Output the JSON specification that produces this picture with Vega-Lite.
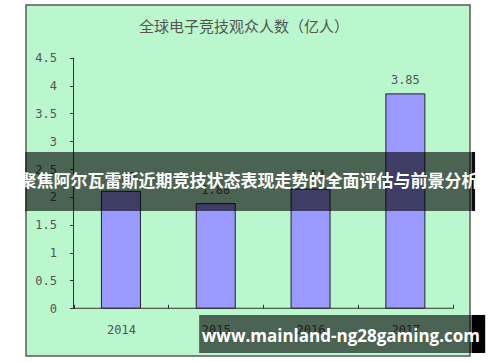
{
  "$schema": "https://vega.github.io/schema/vega-lite/v6.json",
  "width": 444,
  "height": 351,
  "autosize": {"type": "none"},
  "padding": {"left": 26, "top": 5, "right": 30, "bottom": 6},
  "background": "white",
  "view": {"fill": "#bbf7cc", "stroke": "#5a5a5a", "strokeWidth": 1.5},
  "title": {
    "text": "全球电子竞技观众人数（亿人）",
    "font": "Noto Sans CJK SC",
    "fontSize": 15,
    "fontWeight": "normal",
    "color": "#555555",
    "anchor": "middle",
    "frame": "group",
    "offset": -30,
    "dx": -4
  },
  "data": {
    "values": [
      {"year": 2014, "viewers": 2.10},
      {"year": 2015, "viewers": 1.88},
      {"year": 2016, "viewers": 2.14},
      {"year": 2017, "viewers": 3.85}
    ]
  },
  "resolve": {"axis": {"x": "independent", "y": "independent"}},
  "layer": [
    {
      "mark": {"type": "bar", "size": 39, "fill": "#9999ff", "stroke": "#222222", "strokeWidth": 1},
      "encoding": {
        "x": {
          "field": "year",
          "type": "quantitative",
          "scale": {"domain": [2013.0515, 2017.629], "nice": false, "zero": false},
          "axis": {
            "values": [2013.5, 2014, 2014.5, 2015, 2015.5, 2016, 2016.5, 2017, 2017.5],
            "offset": -47.7,
            "domain": false,
            "grid": false,
            "title": null,
            "tickSize": -4,
            "tickColor": "#333333",
            "tickOpacity": {"condition": {"test": "datum.value % 1 === 0", "value": 0}, "value": 1},
            "labelExpr": "datum.value % 1 === 0 ? '' + datum.value : ''",
            "labelFont": "DejaVu Sans Mono",
            "labelFontSize": 12,
            "labelColor": "#555555",
            "labelPadding": 20,
            "labelFlush": false,
            "labelOverlap": false
          }
        },
        "y": {
          "field": "viewers",
          "type": "quantitative",
          "scale": {"domain": [-0.857, 5.446], "nice": false, "zero": false},
          "axis": {
            "values": [0, 0.5, 1, 1.5, 2, 2.5, 3, 3.5, 4, 4.5],
            "offset": -43.5,
            "domain": false,
            "grid": false,
            "title": null,
            "tickSize": -4,
            "tickColor": "#333333",
            "labelExpr": "'' + datum.value",
            "labelFont": "DejaVu Sans Mono",
            "labelFontSize": 12,
            "labelColor": "#555555",
            "labelPadding": 17,
            "labelFlush": false,
            "labelOverlap": false
          }
        },
        "y2": {"datum": 0}
      }
    },
    {
      "mark": {"type": "text", "font": "DejaVu Sans Mono", "fontSize": 12, "color": "#555555", "baseline": "bottom", "dy": -7},
      "encoding": {
        "x": {"field": "year", "type": "quantitative", "axis": null},
        "y": {"field": "viewers", "type": "quantitative", "axis": null},
        "text": {"field": "viewers", "type": "quantitative", "format": ".2f"}
      }
    },
    {
      "data": {"values": [{}]},
      "mark": {"type": "rule", "color": "#333333", "strokeWidth": 1},
      "encoding": {"x": {"datum": 2013.5, "axis": null}, "y": {"datum": 0, "axis": null}, "y2": {"datum": 4.5}}
    },
    {
      "data": {"values": [{}]},
      "mark": {"type": "rule", "color": "#333333", "strokeWidth": 1},
      "encoding": {"y": {"datum": 0, "axis": null}, "x": {"datum": 2013.5, "axis": null}, "x2": {"datum": 2017.5}}
    },
    {
      "data": {"values": [{}]},
      "mark": {"type": "rect", "fill": "#000000", "opacity": 0.6},
      "encoding": {"x": {"datum": 2012.99, "axis": null}, "x2": {"datum": 2017.701}, "y": {"datum": 2.807, "axis": null}, "y2": {"datum": 1.747}}
    },
    {
      "data": {"values": [{}]},
      "mark": {"type": "rect", "fill": "#000000", "opacity": 0.95},
      "encoding": {"x": {"datum": 2017.701, "axis": null}, "x2": {"datum": 2017.735}, "y": {"datum": 2.807, "axis": null}, "y2": {"datum": 1.747}}
    },
    {
      "data": {"values": [{"label": "聚焦阿尔瓦雷斯近期竞技状态表现走势的全面评估与前景分析"}]},
      "mark": {"type": "text", "font": "Noto Sans CJK SC", "fontSize": 17, "fontWeight": "bold", "color": "white", "align": "center", "baseline": "middle"},
      "encoding": {"x": {"datum": 2015.35, "axis": null}, "y": {"datum": 2.268, "axis": null}, "text": {"field": "label"}}
    },
    {
      "data": {"values": [{}]},
      "mark": {"type": "rect", "fill": "#000000", "opacity": 0.6},
      "encoding": {"x": {"datum": 2014.825, "axis": null}, "x2": {"datum": 2017.701}, "y": {"datum": -0.12, "axis": null}, "y2": {"datum": -0.803}}
    },
    {
      "data": {"values": [{}]},
      "mark": {"type": "rect", "fill": "#000000", "opacity": 1},
      "encoding": {"x": {"datum": 2017.701, "axis": null}, "x2": {"datum": 2017.842}, "y": {"datum": -0.12, "axis": null}, "y2": {"datum": -0.803}}
    },
    {
      "data": {"values": [{"label": "www.mainland-ng28gaming.com"}]},
      "mark": {"type": "text", "font": "Open Sans", "fontSize": 17, "fontWeight": "bold", "color": "white", "align": "center", "baseline": "middle"},
      "encoding": {"x": {"datum": 2016.32, "axis": null}, "y": {"datum": -0.51, "axis": null}, "text": {"field": "label"}}
    }
  ]
}
